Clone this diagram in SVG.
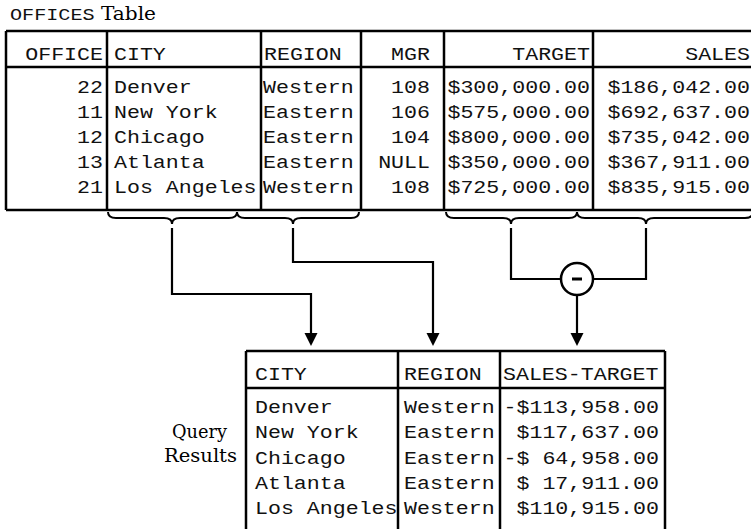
<svg xmlns="http://www.w3.org/2000/svg" width="751" height="529" viewBox="0 0 751 529">
<style>
.m{font-family:"Liberation Mono","DejaVu Sans Mono",monospace;font-size:18px;fill:#111}
.e{text-anchor:end}
.s{font-family:"DejaVu Serif","Liberation Serif",serif;font-size:19px;fill:#000}
.tb{fill:none;stroke:#000;stroke-width:2.5}
.cn{fill:none;stroke:#000;stroke-width:2.2}
.br{fill:none;stroke:#000;stroke-width:2}
</style>
<defs>
<marker id="ah" markerUnits="userSpaceOnUse" markerWidth="14" markerHeight="14" viewBox="0 0 14 14" refX="7" refY="6.5" orient="auto">
<path d="M0,0 L13,6.5 L0,13 Z" fill="#000"/>
</marker>
</defs>
<rect width="751" height="529" fill="#fff"/>

<g id="title">
<text class="m" transform="translate(10,20) scale(1.26,1)" style="font-size:16px">OFFICES</text>
<text class="s" x="101" y="20" textLength="55" lengthAdjust="spacingAndGlyphs">Table</text>
</g>

<g id="offices-table">
<path class="tb" d="M6,31 H752 M6,67 H752 M6,210 H752 M6,31 V210 M107,31 V210 M261,31 V210 M361,31 V210 M444,31 V210 M593,31 V210"/>
<g transform="scale(1.2,1)">
<text class="m e" x="85.83" y="60">OFFICE</text>
<text class="m" x="95" y="60">CITY</text>
<text class="m" x="220" y="60">REGION</text>
<text class="m e" x="358.33" y="60">MGR</text>
<text class="m e" x="491.67" y="60">TARGET</text>
<text class="m e" x="625" y="60">SALES</text>

<text class="m e" x="85.83" y="93">22</text>
<text class="m e" x="85.83" y="118">11</text>
<text class="m e" x="85.83" y="143">12</text>
<text class="m e" x="85.83" y="168">13</text>
<text class="m e" x="85.83" y="193">21</text>

<text class="m" x="95" y="93">Denver</text>
<text class="m" x="95" y="118">New York</text>
<text class="m" x="95" y="143">Chicago</text>
<text class="m" x="95" y="168">Atlanta</text>
<text class="m" x="95" y="193">Los Angeles</text>

<text class="m" x="219.17" y="93">Western</text>
<text class="m" x="219.17" y="118">Eastern</text>
<text class="m" x="219.17" y="143">Eastern</text>
<text class="m" x="219.17" y="168">Eastern</text>
<text class="m" x="219.17" y="193">Western</text>

<text class="m e" x="358.33" y="93">108</text>
<text class="m e" x="358.33" y="118">106</text>
<text class="m e" x="358.33" y="143">104</text>
<text class="m e" x="358.33" y="168">NULL</text>
<text class="m e" x="358.33" y="193">108</text>

<text class="m e" x="491.67" y="93">$300,000.00</text>
<text class="m e" x="491.67" y="118">$575,000.00</text>
<text class="m e" x="491.67" y="143">$800,000.00</text>
<text class="m e" x="491.67" y="168">$350,000.00</text>
<text class="m e" x="491.67" y="193">$725,000.00</text>

<text class="m e" x="625" y="93">$186,042.00</text>
<text class="m e" x="625" y="118">$692,637.00</text>
<text class="m e" x="625" y="143">$735,042.00</text>
<text class="m e" x="625" y="168">$367,911.00</text>
<text class="m e" x="625" y="193">$835,915.00</text>
</g>
</g>

<g id="minus-op">
<circle cx="577" cy="279" r="16" fill="#fff" stroke="#000" stroke-width="2.5"/>
<line x1="572" y1="279" x2="582" y2="279" stroke="#000" stroke-width="3"/>
</g>

<g id="connectors">
<path class="br" d="M108,212 Q108,218 116,218 L164,218 Q172,218 172,224 Q172,218 180,218 L229,218 Q237,218 237,212"/>
<path class="br" d="M237,212 Q237,218 245,218 L285,218 Q293,218 293,224 Q293,218 301,218 L351,218 Q359,218 359,212"/>
<path class="br" d="M446,212 Q446,218 454,218 L503,218 Q511,218 511,224 Q511,218 519,218 L569,218 Q577,218 577,212"/>
<path class="br" d="M577,212 Q577,218 585,218 L638,218 Q646,218 646,224 Q646,218 654,218 L745,218 Q753,218 753,212"/>
<path class="cn" d="M172,228 V294 H311 V340" marker-end="url(#ah)"/>
<path class="cn" d="M293,228 V262 H433 V340" marker-end="url(#ah)"/>
<path class="cn" d="M511,228 V279 H561"/>
<path class="cn" d="M593,279 H646 V228"/>
<path class="cn" d="M577,295 V340" marker-end="url(#ah)"/>
</g>

<g id="label-query-results">
<text class="s" x="172" y="438" textLength="55" lengthAdjust="spacingAndGlyphs">Query</text>
<text class="s" x="164" y="462" textLength="73" lengthAdjust="spacingAndGlyphs">Results</text>
</g>

<g id="query-results-table">
<path class="tb" d="M246,351 H665 M246,388 H665 M246,351 V531 M398,351 V531 M500,351 V531 M665,351 V531"/>
<g transform="scale(1.2,1)">
<text class="m" x="212.5" y="380">CITY</text>
<text class="m" x="336.67" y="380">REGION</text>
<text class="m" x="419.17" y="380">SALES-TARGET</text>

<text class="m" x="212.5" y="413">Denver</text>
<text class="m" x="212.5" y="438.5">New York</text>
<text class="m" x="212.5" y="464">Chicago</text>
<text class="m" x="212.5" y="489">Atlanta</text>
<text class="m" x="212.5" y="514.5">Los Angeles</text>

<text class="m" x="336.67" y="413">Western</text>
<text class="m" x="336.67" y="438.5">Eastern</text>
<text class="m" x="336.67" y="464">Eastern</text>
<text class="m" x="336.67" y="489">Eastern</text>
<text class="m" x="336.67" y="514.5">Western</text>

<text class="m e" x="549.17" y="413">-$113,958.00</text>
<text class="m e" x="549.17" y="438.5">$117,637.00</text>
<text class="m e" x="549.17" y="464" xml:space="preserve">-$ 64,958.00</text>
<text class="m e" x="549.17" y="489" xml:space="preserve">$ 17,911.00</text>
<text class="m e" x="549.17" y="514.5">$110,915.00</text>
</g>
</g>
</svg>
